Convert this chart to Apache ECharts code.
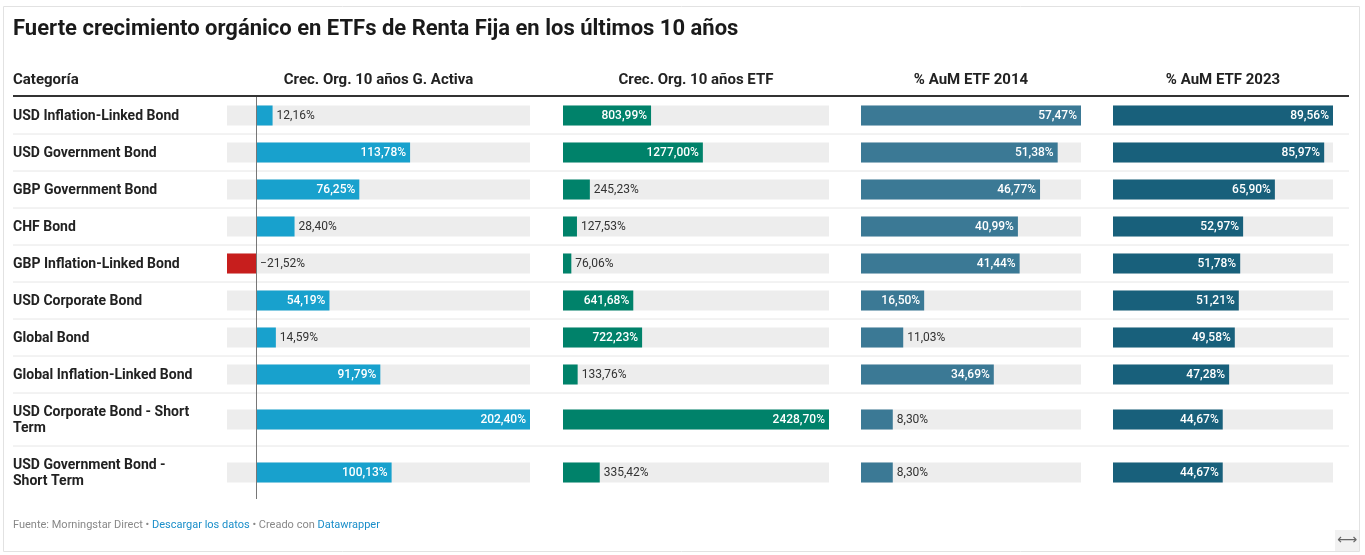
<!DOCTYPE html>
<html>
<head>
<meta charset="utf-8">
<script src="https://cdn.jsdelivr.net/npm/echarts@6/dist/echarts.min.js"></script>
<style>
html,body{margin:0;padding:0;background:#fff;}
#chart{width:1365px;height:555px;}
</style>
</head>
<body>
<div id="chart"></div>
<script>
// ---- data ----
const titleText = 'Fuerte crecimiento orgánico en ETFs de Renta Fija en los últimos 10 años';
const categoryHeader = 'Categoría';
const columnTitles = ['Crec. Org. 10 años G. Activa', 'Crec. Org. 10 años ETF', '% AuM ETF 2014', '% AuM ETF 2023'];
const categories = [
  'USD Inflation-Linked Bond',
  'USD Government Bond',
  'GBP Government Bond',
  'CHF Bond',
  'GBP Inflation-Linked Bond',
  'USD Corporate Bond',
  'Global Bond',
  'Global Inflation-Linked Bond',
  'USD Corporate Bond - Short Term',
  'USD Government Bond - Short Term'
];
const crecActiva = [12.16, 113.78, 76.25, 28.40, -21.52, 54.19, 14.59, 91.79, 202.40, 100.13];
const crecETF = [803.99, 1277.00, 245.23, 127.53, 76.06, 641.68, 722.23, 133.76, 2428.70, 335.42];
const aum2014 = [57.47, 51.38, 46.77, 40.99, 41.44, 16.50, 11.03, 34.69, 8.30, 8.30];
const aum2023 = [89.56, 85.97, 65.90, 52.97, 51.78, 51.21, 49.58, 47.28, 44.67, 44.67];

// ---- layout / style ----
const FONT = 'Roboto, "Noto Sans", sans-serif';
const rowHeights = [37, 37, 37, 37, 37, 37, 37, 37, 53, 53];
const rowStart = [];
let acc = 0;
rowHeights.forEach(h => { rowStart.push(acc); acc += h; });
const totalRows = acc;
const tableTop = 97;
const barH = 20;
const labelSize = 12;
const columns = [
  { left: 227, width: 303, values: crecActiva, color: '#18a1cd', neg: '#c71e1d' },
  { left: 563, width: 266, values: crecETF, color: '#00826a', neg: '#c71e1d' },
  { left: 861, width: 220, values: aum2014, color: '#3b7995', neg: '#c71e1d' },
  { left: 1113, width: 220, values: aum2023, color: '#18607b', neg: '#c71e1d' }
];

const measureCtx = document.createElement('canvas').getContext('2d');
measureCtx.font = labelSize + 'px Roboto';
function textW(t) { return measureCtx.measureText(t).width; }
function fmt(v) {
  const s = Math.abs(v).toFixed(2).replace('.', ',') + '%';
  return (v < 0 ? '\u2212' : '') + s;
}

const chart = echarts.init(document.getElementById('chart'), null, { renderer: 'canvas' });

const grids = [{ left: 13, width: 1336, top: tableTop, height: totalRows }];
const xAxes = [{ type: 'value', gridIndex: 0, min: 0, max: 1, show: false }];
const yAxes = [{ type: 'value', gridIndex: 0, min: 0, max: totalRows, inverse: true, show: false }];
columns.forEach((c, k) => {
  grids.push({ left: c.left, width: c.width, top: tableTop, height: totalRows });
  xAxes.push({ type: 'value', gridIndex: k + 1, min: Math.min(0, ...c.values), max: Math.max(...c.values), show: false });
  yAxes.push({ type: 'value', gridIndex: k + 1, min: 0, max: totalRows, inverse: true, show: false });
});

const series = [];
// categories + row separators
series.push({
  type: 'custom', xAxisIndex: 0, yAxisIndex: 0, silent: true,
  data: categories.map((c, i) => [0, i]),
  renderItem: function (params, api) {
    const i = api.value(1);
    const cy = rowStart[i] + rowHeights[i] / 2;
    const p = api.coord([0, cy]);
    const children = [{
      type: 'text',
      style: {
        text: categories[i], x: p[0], y: p[1] + 1, align: 'left', verticalAlign: 'middle',
        fill: '#222', fontSize: 14, fontWeight: 'bold', fontFamily: FONT,
        width: 185, overflow: 'break', lineHeight: 16
      }
    }];
    if (i < categories.length - 1) {
      const yb = rowStart[i + 1];
      const a = api.coord([0, yb]), b = api.coord([1, yb]);
      children.push({ type: 'line', shape: { x1: a[0], y1: a[1], x2: b[0], y2: b[1] }, style: { stroke: '#e6e6e6', lineWidth: 1 } });
    }
    return { type: 'group', children: children };
  }
});

columns.forEach((c, k) => {
  const dmin = Math.min(0, ...c.values), dmax = Math.max(...c.values);
  series.push({
    type: 'custom', xAxisIndex: k + 1, yAxisIndex: k + 1, silent: true,
    data: c.values.map((v, i) => [v, i]),
    renderItem: function (params, api) {
      const v = api.value(0), i = api.value(1);
      const cy = rowStart[i] + rowHeights[i] / 2;
      const p0 = api.coord([0, cy]);
      const p1 = api.coord([v, cy]);
      const pa = api.coord([dmin, cy]);
      const pb = api.coord([dmax, cy]);
      const y = p0[1];
      const children = [];
      children.push({ type: 'rect', shape: { x: pa[0], y: y - barH / 2, width: pb[0] - pa[0], height: barH }, style: { fill: '#ededed' } });
      const x0 = Math.min(p0[0], p1[0]);
      const w = Math.abs(p1[0] - p0[0]);
      children.push({ type: 'rect', shape: { x: x0, y: y - barH / 2, width: w, height: barH }, style: { fill: v < 0 ? c.neg : c.color } });
      const t = fmt(v);
      const tw = textW(t);
      let lx, align, fill;
      if (w >= tw + 8) {
        align = v < 0 ? 'left' : 'right';
        lx = v < 0 ? p1[0] + 4 : p1[0] - 4;
        fill = '#fff';
      } else if (v < 0) {
        align = 'left'; lx = p0[0] + 4; fill = '#333';
      } else {
        align = 'left'; lx = p1[0] + 4; fill = '#333';
      }
      children.push({ type: 'text', style: { text: t, x: lx, y: y + 0.5, align: align, verticalAlign: 'middle', fill: fill, fontSize: labelSize, fontFamily: FONT, fontWeight: fill === '#fff' ? 500 : 'normal' } });
      return { type: 'group', children: children };
    },
    markLine: dmin < 0 ? {
      silent: true, symbol: 'none', animation: false,
      label: { show: false },
      lineStyle: { color: '#777', width: 1, type: 'solid' },
      data: [{ xAxis: 0 }]
    } : undefined
  });
});

const graphics = [
  { type: 'rect', shape: { x: 3.5, y: 6.5, width: 1356, height: 545 }, style: { fill: 'none', stroke: '#e2e2e2', lineWidth: 1 }, z: -1 },
  { type: 'rect', shape: { x: 1335, y: 530, width: 24, height: 21 }, style: { fill: '#f1f1f1' } },
  { type: 'text', style: { text: '\u27F7', x: 1347, y: 540, align: 'center', verticalAlign: 'middle', fill: '#666', fontSize: 14, fontFamily: 'DejaVu Sans' } },
  { type: 'line', shape: { x1: 13, y1: 96, x2: 1349, y2: 96 }, style: { stroke: '#333', lineWidth: 2 } },
  { type: 'text', style: { text: categoryHeader, x: 13, y: 80, align: 'left', verticalAlign: 'middle', fill: '#222', fontSize: 15, fontWeight: 'bold', fontFamily: FONT } },
  {
    type: 'text',
    style: {
      text: '{g|Fuente: Morningstar Direct • }{b|Descargar los datos}{g| • Creado con }{b|Datawrapper}',
      x: 13, y: 525, verticalAlign: 'middle', align: 'left',
      rich: {
        g: { fill: '#888', fontSize: 11, fontFamily: FONT },
        b: { fill: '#1a8ec9', fontSize: 11, fontFamily: FONT }
      }
    }
  }
];
columns.forEach((c, k) => {
  graphics.push({ type: 'text', style: { text: columnTitles[k], x: c.left + c.width / 2, y: 80, align: 'center', verticalAlign: 'middle', fill: '#222', fontSize: 15, fontWeight: 'bold', fontFamily: FONT } });
});

chart.setOption({
  animation: false,
  backgroundColor: '#fff',
  title: {
    text: titleText, left: 13, top: 18, padding: 0,
    textStyle: { fontSize: 22, fontWeight: 'bold', color: '#1a1a1a', fontFamily: FONT }
  },
  grid: grids,
  xAxis: xAxes,
  yAxis: yAxes,
  graphic: graphics,
  series: series
});
</script>
</body>
</html>
